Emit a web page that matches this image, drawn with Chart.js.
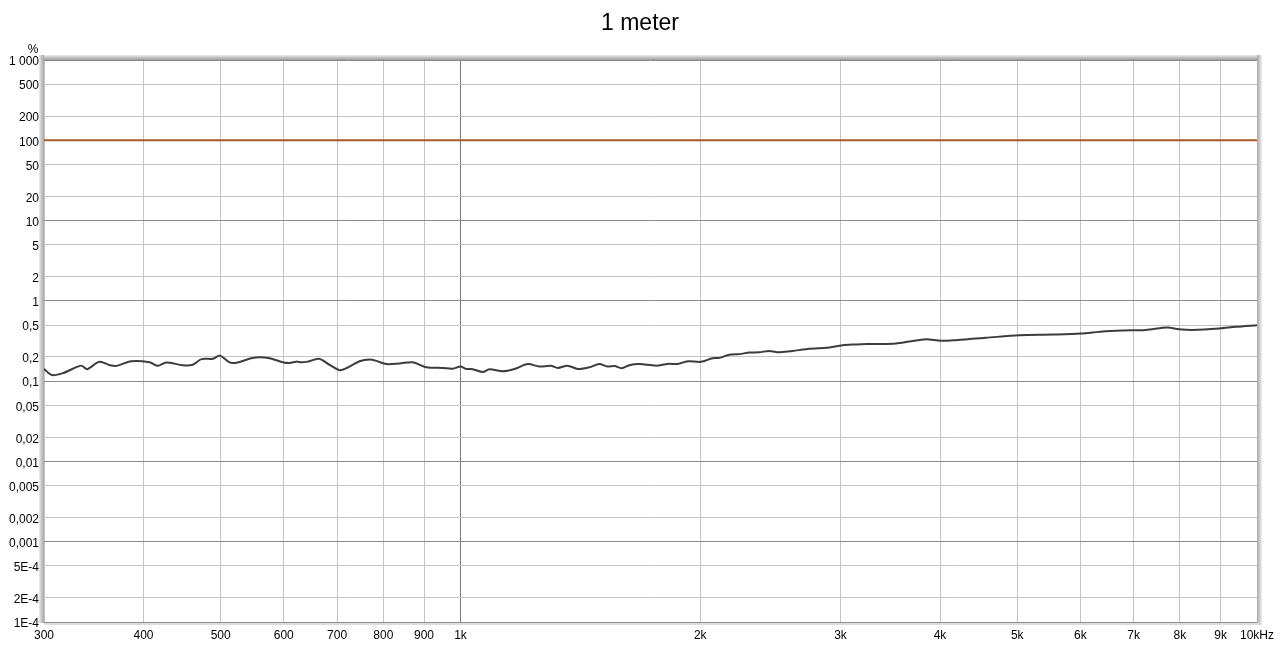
<!DOCTYPE html>
<html><head><meta charset="utf-8">
<script src="https://cdn.jsdelivr.net/npm/chart.js@4/dist/chart.umd.min.js"></script>
<style>html,body{margin:0;padding:0;background:#fff}#wrap{width:1280px;height:646px}</style>
</head><body><div id="wrap"><canvas id="c" width="1280" height="646"></canvas></div>
<script>
const TITLE = '1 meter';
const Y_UNIT = '%';
const FREQ = [300,307,317,334,340,352,363,370,386,407,417,427,448,461,473,489,499,513,525,546,560,576,598,610,622,631,643,664,685,705,722,747,769,784,807,838,871,906,950,978,1000,1017,1036,1067,1087,1130,1169,1215,1256,1299,1325,1363,1403,1451,1494,1530,1561,1594,1629,1677,1760,1820,1874,1929,2004,2073,2113,2175,2239,2305,2372,2442,2501,2612,2715,2877,3018,3107,3244,3356,3521,3659,3840,4010,4188,4566,5028,5537,6008,6395,6776,7252,7719,7983,8296,8963,9403,10000];
const DISTORTION = [0.142,0.119,0.126,0.156,0.141,0.174,0.158,0.155,0.177,0.172,0.155,0.171,0.158,0.160,0.188,0.190,0.208,0.171,0.171,0.193,0.199,0.193,0.172,0.168,0.175,0.172,0.175,0.190,0.160,0.137,0.148,0.177,0.186,0.179,0.163,0.166,0.172,0.149,0.146,0.143,0.152,0.142,0.141,0.130,0.141,0.133,0.142,0.163,0.152,0.155,0.146,0.156,0.142,0.149,0.163,0.152,0.154,0.145,0.158,0.163,0.156,0.164,0.164,0.177,0.174,0.193,0.195,0.213,0.217,0.227,0.229,0.238,0.229,0.238,0.250,0.260,0.280,0.286,0.291,0.290,0.294,0.311,0.333,0.318,0.324,0.346,0.374,0.381,0.391,0.415,0.427,0.435,0.465,0.444,0.435,0.452,0.475,0.498];
const REF_FREQ = [300, 10000];
const REF_LEVEL = [100, 100];
const X_TICKS = [300,400,500,600,700,800,900,1000,2000,3000,4000,5000,6000,7000,8000,9000,10000];
const X_LABELS = ['300','400','500','600','700','800','900','1k','2k','3k','4k','5k','6k','7k','8k','9k','10kHz'];
const Y_TICKS = [1e-4,2e-4,5e-4,0.001,0.002,0.005,0.01,0.02,0.05,0.1,0.2,0.5,1,2,5,10,20,50,100,200,500,1000];
const Y_LABELS = ['1E-4','2E-4','5E-4','0,001','0,002','0,005','0,01','0,02','0,05','0,1','0,2','0,5','1','2','5','10','20','50','100','200','500','1 000'];

const FONT = "'Liberation Sans', Arial, sans-serif";
const isDecade = v => Math.abs(Math.log10(v) - Math.round(Math.log10(v))) < 1e-6;

const framePlugin = {
  id: 'frame',
  afterDraw(chart) {
    const ctx = chart.ctx;
    const {left, right, top, bottom} = chart.chartArea;
    ctx.save();
    let g = ctx.createLinearGradient(0, top - 5, 0, top);
    g.addColorStop(0, '#ececec'); g.addColorStop(1, '#9c9c9c');
    ctx.fillStyle = g; ctx.fillRect(left - 5, top - 5, right - left + 10, 5);
    g = ctx.createLinearGradient(left - 5, 0, left, 0);
    g.addColorStop(0, '#ececec'); g.addColorStop(1, '#a4a4a4');
    ctx.fillStyle = g; ctx.fillRect(left - 5, top - 5, 5, bottom - top + 6);
    g = ctx.createLinearGradient(right, 0, right + 5, 0);
    g.addColorStop(0, '#a8a8a8'); g.addColorStop(1, '#f0f0f0');
    ctx.fillStyle = g; ctx.fillRect(right, top - 5, 5, bottom - top + 8);
    ctx.fillStyle = '#8e8e8e'; ctx.fillRect(left, bottom, right - left, 1);
    ctx.fillStyle = '#dcdcdc'; ctx.fillRect(left, bottom + 1, right - left + 3, 2);
    ctx.fillStyle = '#000';
    ctx.font = '23px ' + FONT;
    ctx.textAlign = 'center'; ctx.textBaseline = 'middle';
    ctx.fillText(TITLE, chart.width / 2, 24);
    ctx.font = '12px ' + FONT;
    ctx.fillText(Y_UNIT, 33, 50);
    ctx.restore();
  }
};

const fixAxis = (w, h) => axis => {
  if (w !== null) axis.width = w;
  if (h !== null) axis.height = h;
  axis.paddingLeft = 0; axis.paddingRight = 0; axis.paddingTop = 0; axis.paddingBottom = 0;
};

new Chart(document.getElementById('c'), {
  type: 'line',
  data: {
    datasets: [
      {
        data: REF_FREQ.map((f, i) => ({x: f, y: REF_LEVEL[i]})),
        borderColor: '#a65a2a', borderWidth: 2, pointRadius: 0, tension: 0
      },
      {
        data: FREQ.map((f, i) => ({x: f, y: DISTORTION[i]})),
        borderColor: '#3c3c3c', borderWidth: 2, pointRadius: 0, tension: 0.3
      }
    ]
  },
  options: {
    responsive: false,
    animation: false,
    devicePixelRatio: 1,
    layout: {padding: {top: 60, right: 23, left: 0, bottom: 0}},
    plugins: {legend: {display: false}, tooltip: {enabled: false}, title: {display: false}},
    scales: {
      x: {
        type: 'logarithmic', min: 300, max: 10000,
        afterBuildTicks: axis => { axis.ticks = X_TICKS.map(v => ({value: v})); },
        afterFit: fixAxis(null, 24),
        border: {display: false},
        grid: {
          drawTicks: false,
          color: ctx => (ctx.tick && ctx.tick.value === 1000) ? '#7a7a7a' : '#c4c4c4',
          lineWidth: 1
        },
        ticks: {
          autoSkip: false, maxRotation: 0, minRotation: 0, padding: 6,
          color: '#000', font: {family: FONT, size: 12},
          callback: (v, i) => X_LABELS[i]
        }
      },
      y: {
        type: 'logarithmic', min: 1e-4, max: 1000,
        afterBuildTicks: axis => { axis.ticks = Y_TICKS.map(v => ({value: v})); },
        afterFit: fixAxis(44, null),
        border: {display: false},
        grid: {
          drawTicks: false,
          color: ctx => (ctx.tick && isDecade(ctx.tick.value)) ? '#8a8a8a' : '#c4c4c4',
          lineWidth: 1
        },
        ticks: {
          autoSkip: false, padding: 5, labelOffset: 2,
          color: '#000', font: {family: FONT, size: 12},
          callback: (v, i) => Y_LABELS[i]
        }
      }
    }
  },
  plugins: [framePlugin]
});
</script>
</body></html>
